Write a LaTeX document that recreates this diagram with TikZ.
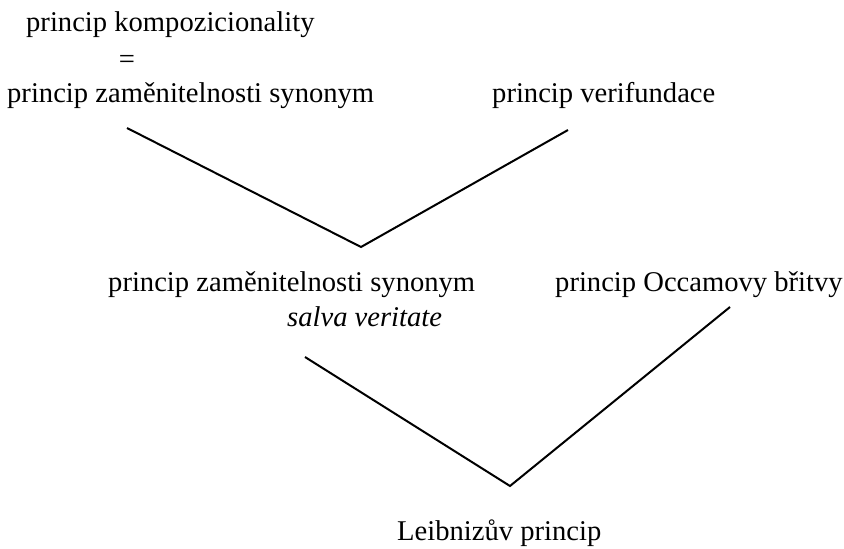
\documentclass[tikz,border=0pt]{standalone}
\usepackage{fontspec}
\setmainfont{Liberation Serif}
\begin{document}
\begin{tikzpicture}[x=1pt,y=-1pt,
  lbl/.style={anchor=base west,inner sep=0pt,font=\fontsize{28.6}{34}\selectfont},
  conn/.style={line width=2pt,line join=miter}]
\useasboundingbox (0,0) rectangle (844,549);
\node[lbl] (komp) at (26,31) {princip kompozicionality};
\node[lbl,anchor=base] (eq) at (127,68) {=};
\node[lbl] (zam1) at (7,102) {princip zaměnitelnosti synonym};
\node[lbl] (ver) at (492,102) {princip verifundace};
\node[lbl] (zam2) at (108,291) {princip zaměnitelnosti synonym};
\node[lbl] (salva) at (287,326) {\itshape salva veritate};
\node[lbl] (occ) at (555,291) {princip Occamovy břitvy};
\node[lbl] (leib) at (397,540) {Leibnizův princip};
\coordinate (a1) at (127,128);
\coordinate (v1) at (361,247);
\coordinate (b1) at (568,130);
\coordinate (a2) at (305,357);
\coordinate (v2) at (510,486);
\coordinate (b2) at (730,307);
\draw[conn] (a1) -- (v1) -- (b1);
\draw[conn] (a2) -- (v2) -- (b2);
\end{tikzpicture}
\end{document}
